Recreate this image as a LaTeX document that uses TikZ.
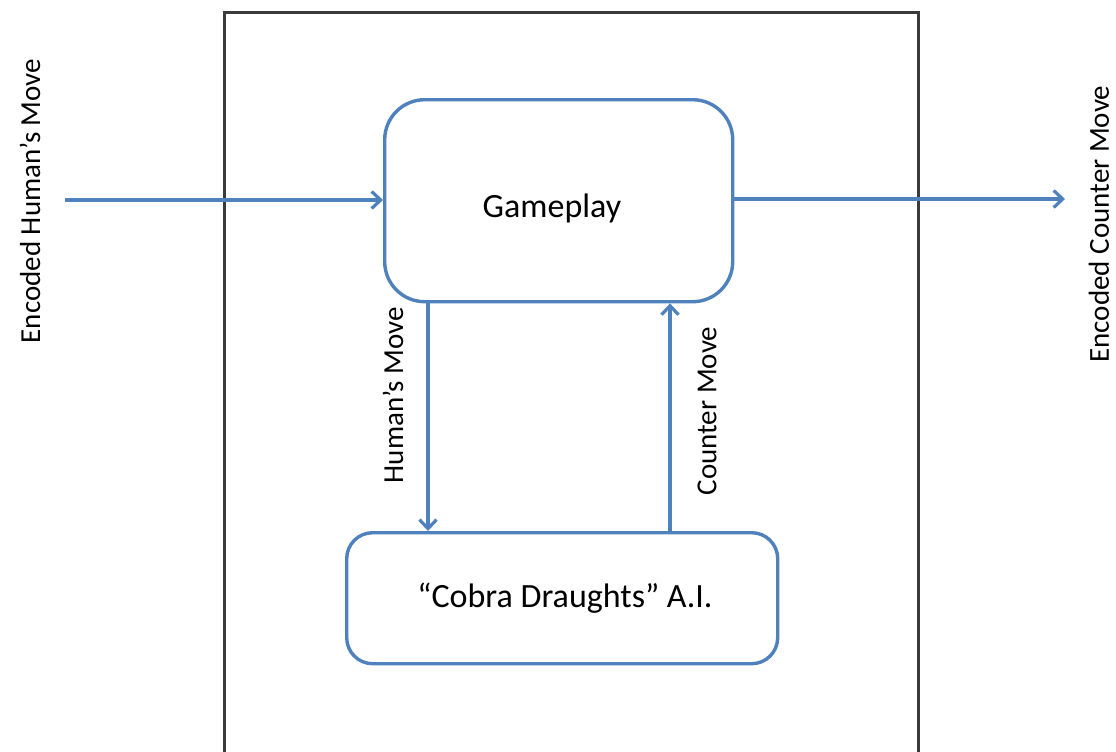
\documentclass[tikz,border=0pt]{standalone}
\usepackage{fontspec}
\setmainfont{Carlito}
\usetikzlibrary{arrows.meta}
\definecolor{obl}{HTML}{4F81BD}
\definecolor{frm}{HTML}{3A3A3A}
\tikzset{
  procbox/.style={draw=obl, line width=3.4pt, inner sep=0pt, anchor=north west},
  flow/.style={draw=obl, line width=3.4pt, -{Straight Barb[length=9pt,width=17pt,line width=3.2pt]}},
  lbl/.style={font=\fontsize{29}{34}\selectfont, rotate=90, inner sep=0pt},
  boxtxt/.style={font=\fontsize{34}{40}\selectfont, inner sep=0pt}
}
\begin{document}
\begin{tikzpicture}[x=1pt,y=-1pt]
\useasboundingbox (0,0) rectangle (1116,752);
\clip (0,0) rectangle (1116,752);
\fill[white] (0,0) rectangle (1116,752);
\node[draw=frm, line width=2.6pt, minimum width=694pt, minimum height=760pt, anchor=north west, inner sep=0pt] (frame) at (223,11) {};
\node[procbox, minimum width=348pt, minimum height=202pt, rounded corners=40pt] (gp) at (383,98) {};
\node[procbox, minimum width=431pt, minimum height=131pt, rounded corners=26pt] (ai) at (345,531) {};
\node[boxtxt] (gpt) at (552,208) {Gameplay};
\node[boxtxt] (ait) at (565,598) {“Cobra Draughts” A.I.};
\coordinate (inS) at (65,200);
\coordinate (outE) at (1065,199);
\coordinate (hx) at (428,0);
\coordinate (cx) at (670,0);
\draw[flow] (inS) -- (inS -| gp.west);
\draw[flow] (gp.east |- outE) -- (outE);
\draw[flow] (gp.south -| hx) -- (ai.north -| hx);
\draw[flow] (ai.north -| cx) -- (gp.south -| cx);
\node[lbl] (l1) at (30,201) {Encoded Human’s Move};
\node[lbl] (l2) at (1099,224) {Encoded Counter Move};
\node[lbl] (l3) at (393,395) {Human’s Move};
\node[lbl] (l4) at (707,411) {Counter Move};
\end{tikzpicture}
\end{document}
